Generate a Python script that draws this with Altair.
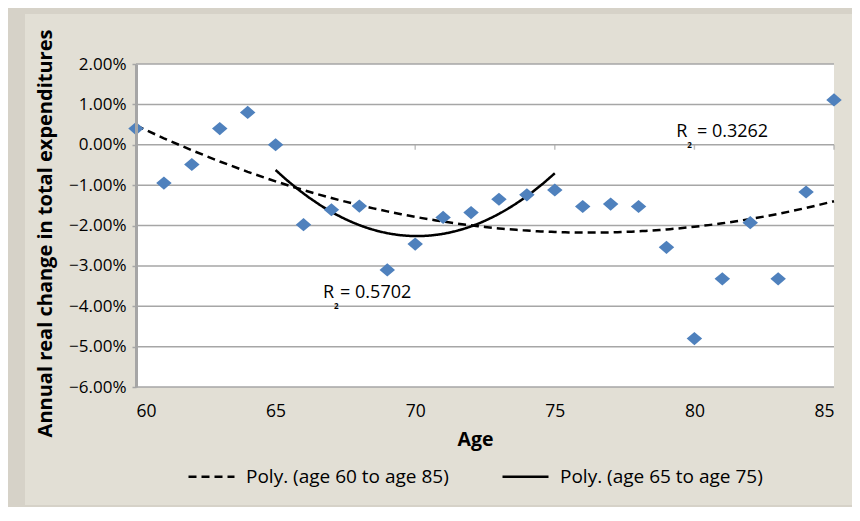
import altair as alt
import pandas as pd

# ---------------- data ----------------
ages = list(range(60, 86))
change_pct = [0.40, -0.95, -0.49, 0.40, 0.80, 0.00, -1.98, -1.61, -1.52, -3.10,
              -2.46, -1.80, -1.68, -1.35, -1.24, -1.12, -1.53, -1.47, -1.53, -2.54,
              -4.80, -3.32, -1.93, -3.32, -1.17, 1.11]
y_ticks_pct = [2, 1, 0, -1, -2, -3, -4, -5, -6]
x_ticks = [60, 65, 70, 75, 80, 85]
zero_line_ticks = [65, 70, 75, 80, 85]
series_names = ["Poly. (age 60 to age 85)", "Poly. (age 65 to age 75)"]
r2_text = ["= 0.3262", "= 0.5702"]
r2_age = [79.35, 66.7]
r2_eq_age = [80.09, 67.31]
r2_pct = [0.19, -3.79]

FONT = "Open Sans"
W, H = 698, 323
GRID = "#a6a6a6"

df = pd.DataFrame({"age": ages, "value": [v / 100 for v in change_pct]})
grid_df = pd.DataFrame({"value": [v / 100 for v in y_ticks_pct]})
zt_df = pd.DataFrame({"age": zero_line_ticks, "value": [0.0] * len(zero_line_ticks)})
ann_df = pd.DataFrame({"age": r2_age, "eq_age": r2_eq_age,
                       "value": [v / 100 for v in r2_pct], "text": r2_text})
one = pd.DataFrame({"k": [0]})

xscale = alt.Scale(domain=[60, 85], nice=False, zero=False)
yscale = alt.Scale(domain=[-0.06, 0.02], nice=False, zero=False)

x_axis = alt.Axis(values=x_ticks, format="d", grid=False, domain=False, ticks=False,
                  tickSize=0, labelPadding=24, labelBaseline="middle", labelFontSize=17.5,
                  titleFontSize=19.5, titleFontWeight="bold", titleX=339, titleY=52,
                  titleBaseline="middle", zindex=1)
y_axis = alt.Axis(values=[v / 100 for v in y_ticks_pct], format=".2%", grid=False,
                  labelExpr="replace(datum.label, '-', '\u2212')",
                  domainColor=GRID, domainWidth=3, tickColor=GRID, tickSize=4,
                  tickWidth=1.5, labelPadding=6, labelFontSize=17,
                  titleFontSize=20, titleFontWeight="bold", titleX=-91, titleY=169,
                  titleBaseline="middle", zindex=1)


def xenc(field="age"):
    return alt.X(f"{field}:Q", scale=xscale, axis=x_axis, title="Age")


def yenc():
    return alt.Y("value:Q", scale=yscale, axis=y_axis,
                 title="Annual real change in total expenditures")


panel = alt.Chart(one).mark_rect(color="#e2dfd5").encode(
    x=alt.value(-111), x2=alt.value(730), y=alt.value(-50), y2=alt.value(441))
plot_bg = alt.Chart(one).mark_rect(color="white").encode(
    x=alt.value(0), x2=alt.value(W), y=alt.value(0), y2=alt.value(H))

grid = alt.Chart(grid_df).mark_rule(color=GRID, strokeWidth=1.5).encode(
    y=yenc(), x=alt.value(0), x2=alt.value(W))

zticks = alt.Chart(zt_df).mark_tick(orient="vertical", size=5, thickness=1.5,
                                    color=GRID, yOffset=2.5).encode(x=xenc(), y=yenc())

dash_scale = alt.Scale(domain=series_names, range=[[8, 5], [1, 0]])
legend = alt.Legend(title=None, orient="none", legendX=51, legendY=388,
                    direction="horizontal", symbolType="stroke", symbolSize=2116,
                    symbolStrokeWidth=2.5, symbolStrokeColor="black",
                    labelFontSize=19, labelOffset=10, columnPadding=48, labelLimit=400,
                    labelColor="black", labelFont=FONT)

poly_all = alt.Chart(df).transform_regression(
    "age", "value", method="poly", order=2, extent=[60, 85]
).transform_calculate(series=f"'{series_names[0]}'").mark_line(
    color="black", strokeWidth=2.5).encode(
    x=xenc(), y=yenc(),
    strokeDash=alt.StrokeDash("series:N", scale=dash_scale, legend=legend))

poly_mid = alt.Chart(df).transform_filter(
    (alt.datum.age >= 65) & (alt.datum.age <= 75)
).transform_regression(
    "age", "value", method="poly", order=2, extent=[65, 75]
).transform_calculate(series=f"'{series_names[1]}'").mark_line(
    color="black", strokeWidth=2.5).encode(
    x=xenc(), y=yenc(),
    strokeDash=alt.StrokeDash("series:N", scale=dash_scale, legend=legend))

points = alt.Chart(df).mark_point(
    shape="M-1,0L0,-0.85L1,0L0,0.85Z", filled=True, size=240,
    color="#4f81bd", opacity=1, strokeWidth=0).encode(x=xenc(), y=yenc())

r_txt = alt.Chart(ann_df).mark_text(font=FONT, fontSize=18, align="left",
                                    baseline="alphabetic", color="black").encode(
    x=xenc(), y=yenc(), text=alt.value("R"))
two_txt = alt.Chart(ann_df).mark_text(font=FONT, fontSize=8, fontWeight="bold",
                                      align="left", baseline="alphabetic",
                                      color="black", dx=11, dy=11).encode(
    x=xenc(), y=yenc(), text=alt.value("2"))
eq_txt = alt.Chart(ann_df).mark_text(font=FONT, fontSize=18, align="left",
                                     baseline="alphabetic", color="black").encode(
    x=xenc("eq_age"), y=yenc(), text="text:N")

chart = alt.layer(
    panel, plot_bg, grid, zticks, poly_all, poly_mid, points, r_txt, two_txt, eq_txt
).properties(
    width=W, height=H,
    padding={"left": 128, "top": 56, "right": 18, "bottom": 120},
    autosize=alt.AutoSizeParams(type="none"),
    background="#d6d2c8",
).configure_view(stroke="transparent").configure_axis(
    labelFont=FONT, titleFont=FONT, labelColor="black", titleColor="black"
).configure_text(font=FONT)

chart.save("out.html", embed_options={"renderer": "svg", "actions": False})
